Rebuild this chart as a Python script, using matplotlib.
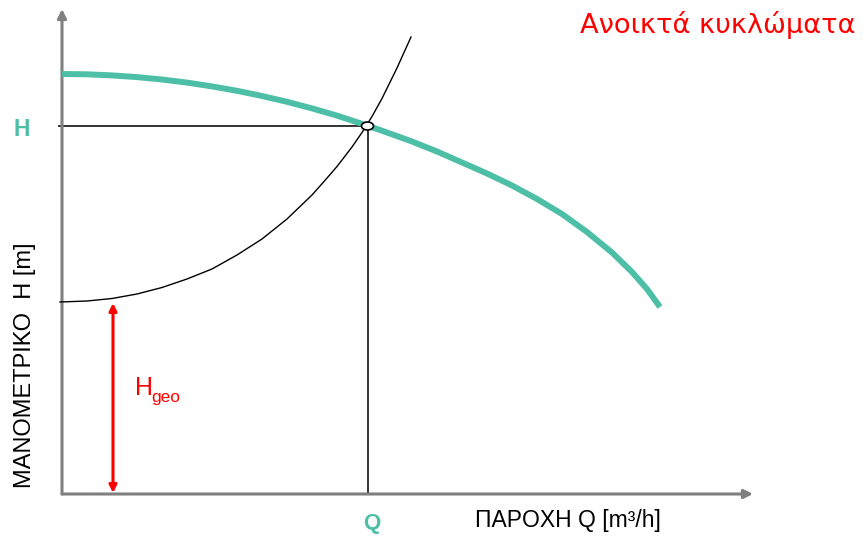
import matplotlib
matplotlib.use("Agg")
import matplotlib.pyplot as plt
from matplotlib.patches import Ellipse

# schematic units: Q and H measured from the axis origin
pump_q = [0, 25, 50, 75, 100, 125, 150, 175, 200, 225, 250, 275, 305,
          325, 350, 375, 400, 425, 450, 475, 500, 525, 550, 570, 585, 598]
pump_h = [420, 419.7, 418.6, 416.9, 414.5, 411.4, 407.6, 403.2, 398, 392.2,
          385.6, 378.4, 368.5, 361.5, 352.5, 342.5, 331.5, 320.5, 308.5,
          295, 280, 262, 241.5, 222, 205, 187]

sys_q = [-2, 25, 50, 75, 100, 125, 150, 175, 200, 225, 250, 262, 275, 290,
         300, 310, 320, 335, 349]
sys_h = [192, 193, 195.5, 200, 206.5, 215, 225, 239, 255, 275, 299, 312.5,
         327.5, 347, 361.5, 377.5, 395.5, 426, 457]

q_op, h_op = 306, 368
h_geo = 192

teal = "#4DBFA6"
gray = "#808080"

fig = plt.figure(figsize=(8.63, 5.37), dpi=100)
ax = fig.add_axes([0, 0, 1, 1])
ax.set_xlim(-62, 801)
ax.set_ylim(-43, 494)
ax.axis("off")

# axes with arrows
ax.annotate("", xy=(691, 0), xytext=(0, 0),
            arrowprops=dict(arrowstyle="-|>", color=gray, lw=2.2,
                            mutation_scale=13, shrinkA=0, shrinkB=0))
ax.annotate("", xy=(0, 485), xytext=(0, 0),
            arrowprops=dict(arrowstyle="-|>", color=gray, lw=2.2,
                            mutation_scale=13, shrinkA=0, shrinkB=0))

# operating point guides
ax.plot([-3, q_op], [h_op, h_op], color="#333333", lw=1.4, zorder=2)
ax.plot([q_op, q_op], [h_op, 0], color="#333333", lw=1.4, zorder=2)

# curves
ax.plot(sys_q, sys_h, color="black", lw=1.0, zorder=3)
ax.plot(pump_q, pump_h, color=teal, lw=4.3, zorder=4,
        solid_capstyle="butt", solid_joinstyle="round")

ax.add_patch(Ellipse((q_op - 0.5, h_op), 12, 8, facecolor="white",
                     edgecolor="black", lw=1.2, zorder=5))

# H_geo arrow
ax.annotate("", xy=(51, h_geo - 1), xytext=(51, 1),
            arrowprops=dict(arrowstyle="<|-|>", color="red", lw=2.2,
                            mutation_scale=11, shrinkA=0, shrinkB=0))
ax.text(73, 99, "H", color="red", fontsize=18, family="Liberation Sans",
        ha="left", va="baseline")
ax.text(89, 92, "geo", color="red", fontsize=12.5, family="Liberation Sans",
        ha="left", va="baseline")

# labels
ax.text(-40, h_op - 3, "H", color=teal, fontsize=16.5, fontweight="bold",
        family="Liberation Sans", ha="center", va="center")
ax.text(q_op + 4, -29, "Q", color=teal, fontsize=16, fontweight="bold",
        family="Liberation Sans", ha="center", va="center")
ax.text(506, -27, "ΠΑΡΟΧΗ Q [m³/h]", color="black", fontsize=16.5,
        family="Liberation Sans", ha="center", va="center")
ax.text(-37, 129, "ΜΑΝΟΜΕΤΡΙΚΟ  Η [m]", color="black", fontsize=17,
        family="Liberation Sans", rotation=90, ha="center", va="center")
ax.text(793, 469, "Ανοικτά κυκλώματα", color="red", fontsize=19.6,
        family="DejaVu Sans", ha="right", va="center")

fig.savefig("out.png", dpi=100)
